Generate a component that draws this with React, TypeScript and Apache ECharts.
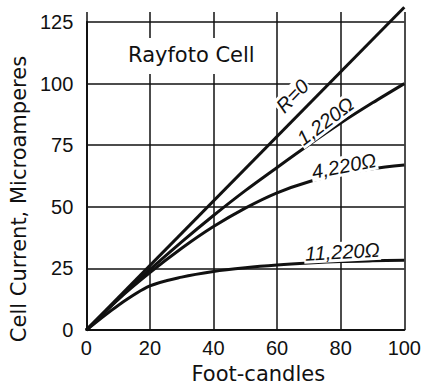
import React, { useEffect, useRef } from "react";
import * as echarts from "echarts";

const footCandles = [0, 10, 20, 30, 40, 50, 60, 70, 80, 90, 100];
const r0X = [0, 100];
const r0Y = [0, 131];
const r1220 = [0, 12.6, 24.5, 35.8, 46.5, 56.6, 66, 75.2, 84, 92.2, 100];
const r4220 = [0, 12.4, 23.3, 33.2, 42, 49.5, 55.7, 60.2, 63.3, 65.5, 67];
const r11220 = [0, 10, 17.9, 21.5, 23.8, 25.3, 26.4, 27.2, 27.8, 28.1, 28.3];

const seriesNames = ["R=0", "1,220 Ω", "4,220 Ω", "11,220 Ω"];
const labelTexts = ["R=0", "1,220Ω", "4,220Ω", "11,220Ω"];

const INK = "#111";
const TEXT_FONT = "DejaVu Sans";
const NUM_FONT = "Liberation Sans";

function pairs(xs: number[], ys: number[]) {
  return xs.map((x, i) => [x, ys[i]]);
}

function curveLabel(text: string, coord: number[], rotate: number) {
  return {
    symbol: "circle",
    symbolSize: 0,
    silent: true,
    data: [{ coord, value: text }],
    label: {
      show: true,
      position: "inside",
      formatter: text,
      rotate,
      fontFamily: NUM_FONT,
      fontStyle: "italic",
      fontSize: 20,
      color: INK,
      backgroundColor: "#fff",
      padding: [0, 1],
    },
  };
}

export default function App() {
  const ref = useRef<HTMLDivElement>(null);
  useEffect(() => {
    if (!ref.current) return;
    const chart = echarts.init(ref.current, undefined, { renderer: "svg" });
    const lineStyle = { color: INK, width: 3 };
    chart.setOption({
      animation: false,
      backgroundColor: "#fff",
      title: {
        text: "Rayfoto Cell",
        left: 124,
        top: 38,
        padding: [6, 4, 9, 4],
        backgroundColor: "#fff",
        textStyle: { fontFamily: TEXT_FONT, fontSize: 21, fontWeight: "normal", color: INK },
      },
      grid: { left: 85, right: 19, top: 22, bottom: 46 },
      xAxis: [
        {
          type: "value",
          min: 0,
          max: 100,
          interval: 20,
          name: "Foot-candles",
          nameLocation: "middle",
          nameGap: 27,
          nameTextStyle: { fontFamily: TEXT_FONT, fontSize: 21, color: INK, padding: [0, 0, 0, 26] },
          axisLine: { show: true, lineStyle: { color: INK, width: 2 } },
          axisTick: { show: false },
          axisLabel: { margin: 8, fontFamily: NUM_FONT, fontSize: 20, color: INK },
          splitLine: { show: true, lineStyle: { color: INK, width: 1.5 } },
        },
        {
          type: "value",
          position: "top",
          min: 0,
          max: 100,
          interval: 20,
          axisLine: { show: false },
          axisTick: { show: true, inside: false, length: 10, lineStyle: { color: INK, width: 1.5 } },
          axisLabel: { show: false },
          splitLine: { show: false },
        },
      ],
      yAxis: {
        type: "value",
        min: 0,
        max: 125,
        interval: 25,
        name: "Cell Current, Microamperes",
        nameLocation: "middle",
        nameGap: 57,
        nameTextStyle: { fontFamily: TEXT_FONT, fontSize: 21, color: INK, padding: [0, 46, 0, 0] },
        axisLine: { show: true, lineStyle: { color: INK, width: 2 } },
        axisTick: { show: false },
        axisLabel: { margin: 13, fontFamily: NUM_FONT, fontSize: 20, color: INK },
        splitLine: { show: true, lineStyle: { color: INK, width: 1.5 } },
      },
      series: [
        {
          name: seriesNames[0],
          type: "line",
          data: pairs(r0X, r0Y),
          symbol: "none",
          clip: false,
          lineStyle,
          markPoint: curveLabel(labelTexts[0], [64.8, 95], 46),
        },
        {
          name: seriesNames[1],
          type: "line",
          data: pairs(footCandles, r1220),
          symbol: "none",
          smooth: 0.3,
          lineStyle,
          markPoint: curveLabel(labelTexts[1], [75.2, 84.8], 37),
        },
        {
          name: seriesNames[2],
          type: "line",
          data: pairs(footCandles, r4220),
          symbol: "none",
          smooth: 0.3,
          lineStyle,
          markPoint: curveLabel(labelTexts[2], [81, 66.6], 11),
        },
        {
          name: seriesNames[3],
          type: "line",
          data: pairs(footCandles, r11220),
          symbol: "none",
          smooth: 0.3,
          lineStyle,
          markPoint: curveLabel(labelTexts[3], [80.5, 31.8], 3),
        },
      ],
    });
    return () => chart.dispose();
  }, []);
  return (
    <div
      ref={ref}
      style={{ position: "absolute", left: 0, top: 0, width: 424, height: 389, background: "#fff" }}
    />
  );
}
